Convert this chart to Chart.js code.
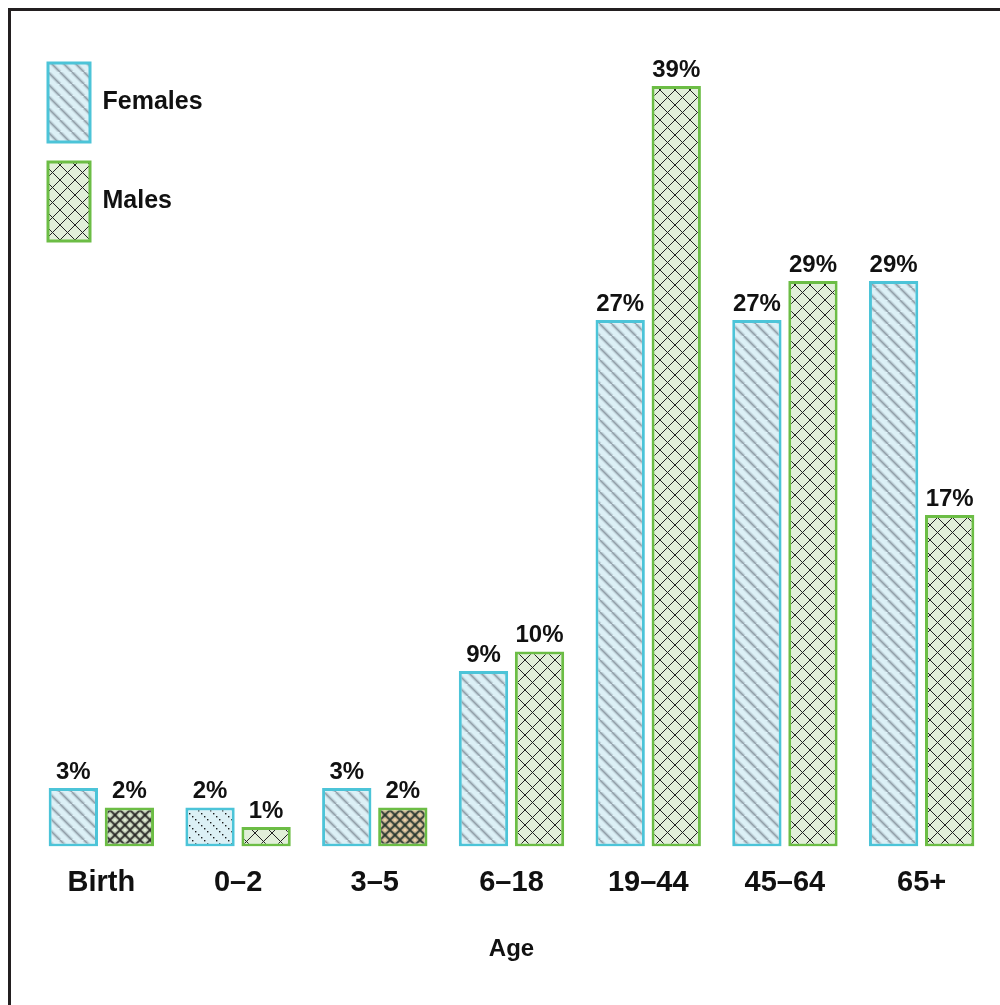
<!DOCTYPE html>
<html>
<head>
<meta charset="utf-8">
<title>Age distribution by sex</title>
<script src="https://cdn.jsdelivr.net/npm/chart.js@4/dist/chart.umd.min.js"></script>
<style>
  html, body { margin: 0; padding: 0; background: #fff; overflow: hidden; }
  #wrap { position: relative; width: 1000px; height: 1005px; }
  #wrap canvas { position: absolute; left: 0; top: 0; }
  #frame { position: absolute; left: 8px; top: 8px; width: 1100px; height: 1100px;
           border-left: 3px solid #231f20; border-top: 3px solid #231f20; pointer-events: none; }
</style>
</head>
<body>
<div id="wrap">
  <canvas id="chart" width="1000" height="1005"></canvas>
  <div id="frame"></div>
</div>
<script>
// Age groups and share of each sex (percent)
const categories = ['Birth', '0–2', '3–5', '6–18', '19–44', '45–64', '65+'];
const females = [3, 2, 3, 9, 27, 27, 29];
const males = [2, 1, 2, 10, 39, 29, 17];
const seriesNames = ['Females', 'Males'];
const axisTitle = 'Age';

const FONT = '"Liberation Sans", Arial, Helvetica, sans-serif';
Chart.defaults.font.family = FONT;

const canvas = document.getElementById('chart');
const ctx = canvas.getContext('2d');

function tile(size, paint) {
  const c = document.createElement('canvas');
  c.width = size; c.height = size;
  const g = c.getContext('2d');
  paint(g, size);
  return ctx.createPattern(c, 'repeat');
}

function diag(g, s, dir) {
  // dir 1: "\" lines, dir -1: "/" lines
  g.beginPath();
  for (const o of [-s, 0, s]) {
    if (dir > 0) { g.moveTo(o, 0); g.lineTo(o + s, s); }
    else { g.moveTo(o, s); g.lineTo(o + s, 0); }
  }
  g.stroke();
}

// soft grey diagonal bands on pale blue
const stripe = tile(12, (g, s) => {
  g.fillStyle = '#dcf0f6'; g.fillRect(0, 0, s, s);
  g.strokeStyle = 'rgba(150,165,175,0.35)'; g.lineWidth = 4; diag(g, s, 1);
  g.strokeStyle = 'rgba(105,115,125,0.55)'; g.lineWidth = 1.4; diag(g, s, 1);
});

// dotted diagonal lines on pale blue
const dotted = tile(12, (g, s) => {
  g.fillStyle = '#dcf0f5'; g.fillRect(0, 0, s, s);
  g.fillStyle = '#1a1a1a';
  for (let k = 0; k < 4; k++) g.fillRect(k * 3, k * 3, 1.4, 1.4);
});

function cross(size, fill, color, width, halo) {
  return tile(size, (g, s) => {
    g.fillStyle = fill; g.fillRect(0, 0, s, s);
    if (halo) {
      g.strokeStyle = halo; g.lineWidth = width + 2.5;
      diag(g, s, 1); diag(g, s, -1);
    }
    g.strokeStyle = color; g.lineWidth = width;
    diag(g, s, 1); diag(g, s, -1);
  });
}

const crossStd = cross(15, '#e2efd9', '#222', 1, null);
const crossDark = cross(10, '#dfecd3', 'rgba(35,35,35,0.85)', 1.8, 'rgba(60,60,60,0.22)');
const crossWide = cross(17, '#e2efd9', '#222', 1, null);
const crossTan = cross(10, '#ebcfa8', 'rgba(35,50,45,0.85)', 1.8, 'rgba(60,80,60,0.25)');

const femaleFill = [stripe, dotted, stripe, stripe, stripe, stripe, stripe];
const maleFill = [crossDark, crossWide, crossTan, crossStd, crossStd, crossStd, crossStd];

// percent labels above every bar
const valueLabels = {
  id: 'valueLabels',
  afterDatasetsDraw(chart) {
    const c = chart.ctx;
    c.save();
    c.font = 'bold 24px ' + FONT;
    c.fillStyle = '#111';
    c.textAlign = 'center';
    c.textBaseline = 'alphabetic';
    chart.data.datasets.forEach((ds, i) => {
      chart.getDatasetMeta(i).data.forEach((bar, j) => {
        c.fillText(ds.data[j] + '%', bar.x, bar.y - 9);
      });
    });
    c.restore();
  }
};

// place the legend block in the upper-left corner of the plot
const legendPlace = {
  id: 'legendPlace',
  afterLayout(chart) {
    const lg = chart.legend;
    if (!lg) return;
    lg.left = 28; lg.top = 43;
    lg.bottom = lg.top + 300; lg.height = 300;
    if (lg.adjustHitBoxes) lg.adjustHitBoxes();
  }
};

new Chart(ctx, {
  type: 'bar',
  data: {
    labels: categories,
    datasets: [
      { label: seriesNames[0], data: females, backgroundColor: femaleFill,
        borderColor: '#4cc4d8', borderWidth: 3, borderSkipped: false },
      { label: seriesNames[1], data: males, backgroundColor: maleFill,
        borderColor: '#6cbd45', borderWidth: 3, borderSkipped: false }
    ]
  },
  options: {
    responsive: false,
    animation: false,
    events: [],
    layout: { padding: { left: 33, right: 10, top: 43, bottom: 31 } },
    datasets: { bar: { categoryPercentage: 0.82, barPercentage: 0.88 } },
    scales: {
      x: {
        grid: { display: false, drawTicks: false },
        border: { display: false },
        ticks: { color: '#111', padding: 19, font: { size: 29, weight: 'bold' } },
        title: { display: true, text: axisTitle, color: '#111',
                 font: { size: 24, weight: 'bold' }, padding: { top: 16, bottom: 10 } }
      },
      y: { display: false, min: 0, max: 41.2 }
    },
    plugins: {
      tooltip: { enabled: false },
      legend: {
        position: 'chartArea',
        align: 'start',
        labels: {
          boxWidth: 42, boxHeight: 79, padding: 20, color: '#111',
          font: { size: 25, weight: 'bold' },
          generateLabels(chart) {
            const items = Chart.defaults.plugins.legend.labels.generateLabels(chart);
            items[0].fillStyle = stripe;
            items[1].fillStyle = crossStd;
            return items;
          }
        }
      }
    }
  },
  plugins: [valueLabels, legendPlace]
});
</script>
</body>
</html>
